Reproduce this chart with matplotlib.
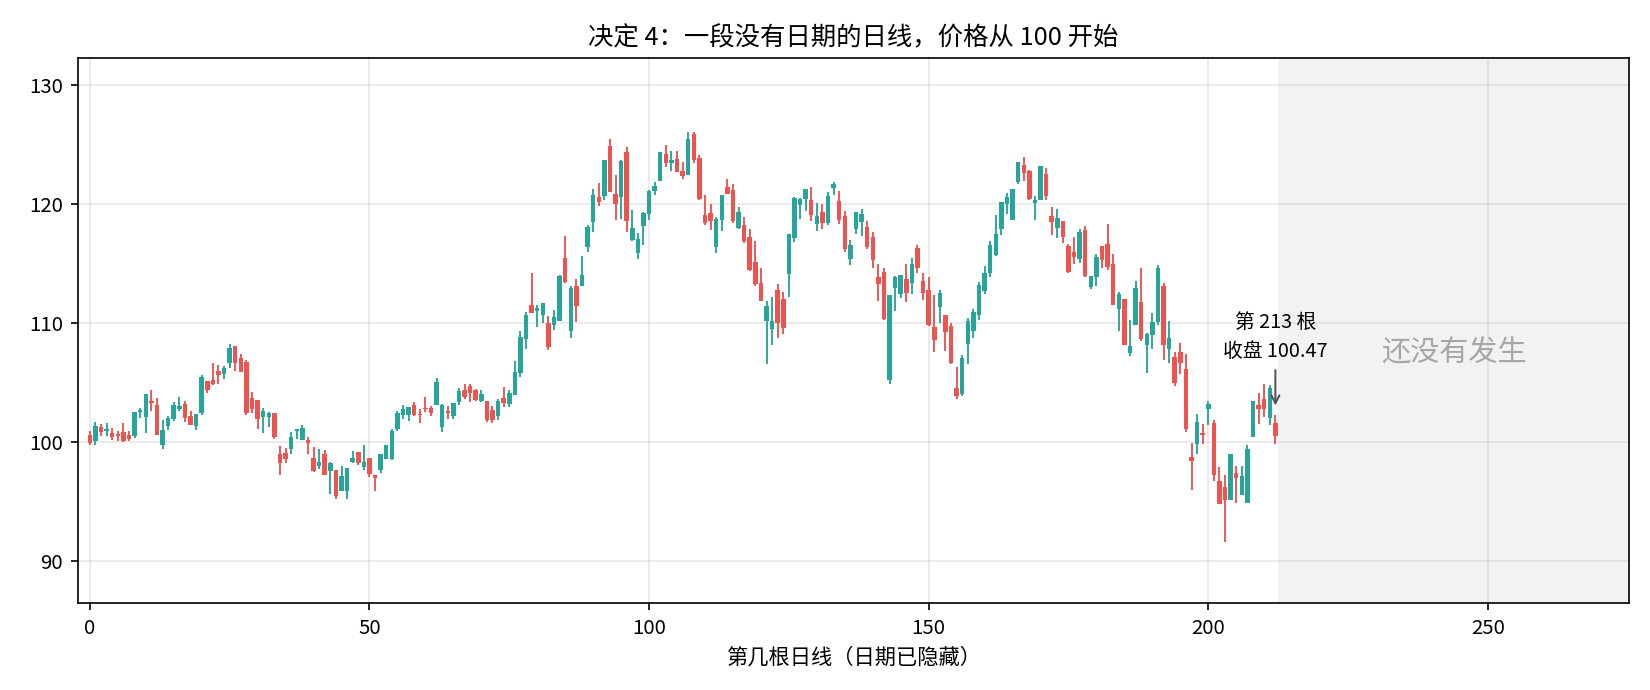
import matplotlib
matplotlib.use("Agg")
import matplotlib.pyplot as plt
import matplotlib.transforms as mtransforms
import numpy as np

plt.rcParams['font.family'] = ['Noto Sans CJK SC', 'DejaVu Sans']

# OHLC of the 213 daily candles
opens = [100.59, 100.11, 101.29, 100.95, 100.73, 100.67, 100.84, 100.62, 100.50, 102.52,
         102.13, 103.47, 103.11, 99.72, 101.34, 101.96, 102.80, 103.19, 102.18, 101.34,
         102.47, 105.16, 105.21, 106.00, 105.72, 106.61, 108.07, 107.06, 106.73, 103.70,
         103.53, 102.13, 102.07, 102.47, 98.99, 99.10, 99.38, 100.90, 100.17, 100.17,
         98.65, 97.93, 98.99, 97.59, 97.64, 95.85, 95.85, 98.32, 99.16, 97.87,
         98.65, 97.20, 97.64, 98.60, 98.54, 101.12, 102.24, 102.30, 103.08, 102.35,
         102.86, 102.86, 103.08, 101.23, 102.64, 102.19, 103.36, 104.37, 104.71, 104.37,
         103.48, 103.45, 102.70, 102.19, 103.70, 103.20, 103.98, 105.77, 108.63, 111.49,
         111.00, 110.71, 109.98, 109.81, 110.20, 115.47, 109.36, 113.12, 113.12, 116.43,
         118.53, 120.58, 120.69, 124.89, 120.86, 120.63, 124.42, 116.99, 115.92, 118.16,
         119.17, 121.14, 121.98, 124.22, 123.49, 123.80, 122.79, 122.48, 125.90, 123.88,
         119.06, 119.23, 116.43, 118.67, 121.44, 121.19, 118.00, 118.22, 117.27, 115.14,
         113.40, 110.20, 109.50, 112.78, 112.00, 114.13, 117.15, 119.90, 120.41, 120.36,
         118.34, 119.35, 118.45, 121.37, 120.24, 119.01, 115.42, 117.94, 118.51, 118.11,
         117.27, 113.91, 114.30, 105.22, 112.96, 112.45, 113.74, 113.40, 116.32, 113.57,
         112.79, 109.70, 111.38, 110.66, 109.76, 104.54, 104.04, 108.25, 109.37, 110.71,
         112.73, 114.19, 115.76, 117.94, 120.02, 118.67, 121.87, 123.30, 122.79, 120.07,
         120.35, 122.54, 119.01, 118.00, 118.59, 116.48, 115.98, 115.42, 117.83, 113.07,
         113.85, 116.48, 116.65, 114.97, 111.16, 112.00, 107.51, 109.81, 111.77, 108.13,
         109.03, 110.09, 113.12, 107.80, 107.12, 107.57, 106.17, 98.77, 99.83, 100.73,
         102.75, 101.57, 96.75, 96.19, 95.12, 97.37, 95.57, 94.90, 100.39, 103.14,
         103.59, 102.02, 101.63]
highs = [100.95, 101.68, 101.51, 101.57, 101.18, 100.95, 101.62, 100.95, 102.52, 102.86,
         104.03, 104.37, 103.70, 101.85, 102.18, 103.36, 103.75, 103.42, 102.63, 102.35,
         105.63, 105.16, 106.61, 106.47, 106.39, 108.24, 108.07, 107.40, 106.89, 104.20,
         103.53, 102.86, 102.52, 102.47, 99.66, 99.49, 100.79, 101.12, 101.46, 100.45,
         99.60, 99.44, 99.33, 98.32, 97.64, 97.93, 97.81, 99.27, 99.16, 99.72,
         98.65, 97.20, 98.99, 99.77, 101.07, 102.64, 103.08, 102.92, 103.36, 102.75,
         103.75, 103.03, 105.38, 103.20, 103.00, 103.25, 104.54, 104.88, 104.88, 104.48,
         104.37, 103.45, 103.00, 103.59, 104.65, 104.37, 106.84, 109.36, 110.93, 114.18,
         111.49, 111.66, 110.60, 111.10, 114.07, 117.32, 113.12, 113.68, 115.64, 118.22,
         121.28, 121.81, 123.72, 125.51, 122.45, 123.72, 124.84, 119.51, 117.55, 119.34,
         121.19, 121.86, 124.39, 125.00, 124.44, 124.44, 123.55, 126.07, 126.07, 124.16,
         120.74, 120.01, 118.89, 120.77, 122.12, 121.70, 119.79, 118.95, 117.94, 116.87,
         114.63, 111.88, 112.16, 113.29, 112.61, 117.49, 120.57, 120.52, 121.31, 121.42,
         120.13, 120.02, 121.03, 121.87, 121.08, 119.46, 117.00, 119.35, 119.63, 118.62,
         117.66, 114.97, 114.64, 112.39, 113.96, 114.02, 114.97, 115.48, 116.54, 114.19,
         113.85, 112.39, 112.79, 110.71, 109.98, 106.34, 107.29, 110.43, 111.16, 113.46,
         114.80, 116.94, 119.12, 120.19, 120.97, 121.25, 123.55, 124.00, 122.88, 120.69,
         123.21, 123.05, 119.79, 119.62, 118.59, 116.65, 117.27, 117.94, 118.17, 113.96,
         115.81, 116.48, 118.34, 115.81, 112.62, 112.00, 110.26, 113.51, 114.64, 109.19,
         110.82, 114.86, 113.35, 110.21, 107.52, 108.30, 107.40, 99.89, 102.36, 101.51,
         103.48, 101.85, 97.87, 97.20, 99.00, 97.98, 97.98, 99.72, 103.42, 104.09,
         104.88, 104.82, 102.30]
lows = [99.75, 99.75, 100.50, 100.50, 100.17, 100.11, 100.03, 100.11, 100.33, 102.02,
        100.78, 102.63, 100.61, 99.44, 101.01, 101.79, 102.63, 101.68, 101.46, 101.01,
        102.30, 104.15, 104.76, 104.88, 105.32, 106.22, 106.00, 105.89, 102.30, 102.47,
        101.12, 100.73, 101.29, 100.28, 97.25, 98.26, 98.94, 100.22, 100.17, 98.94,
        97.48, 97.76, 97.25, 95.63, 95.18, 95.85, 95.23, 98.21, 98.09, 97.64,
        97.08, 95.85, 97.37, 98.54, 98.49, 100.90, 101.96, 101.79, 102.19, 101.63,
        102.52, 102.19, 103.08, 100.79, 101.90, 101.90, 103.08, 103.64, 103.36, 103.42,
        103.36, 101.70, 101.60, 101.85, 102.97, 102.92, 103.98, 105.49, 107.85, 110.88,
        109.64, 110.03, 107.74, 109.42, 110.20, 113.34, 108.75, 110.09, 113.12, 115.98,
        117.66, 119.85, 120.35, 121.02, 118.67, 118.72, 117.66, 116.93, 115.42, 116.59,
        118.67, 120.80, 121.98, 123.10, 122.82, 122.73, 122.12, 122.48, 123.49, 120.35,
        118.22, 117.83, 115.92, 117.77, 120.85, 118.44, 117.94, 116.76, 114.41, 113.12,
        111.88, 106.56, 108.18, 108.74, 109.08, 112.22, 116.82, 118.78, 119.45, 118.62,
        117.78, 117.94, 118.28, 120.75, 118.34, 115.98, 114.92, 117.50, 117.33, 116.21,
        114.64, 111.83, 110.26, 104.88, 111.05, 112.11, 111.78, 112.45, 114.24, 111.94,
        109.76, 107.52, 110.04, 107.68, 106.56, 103.59, 103.82, 106.56, 108.75, 110.26,
        112.45, 113.85, 115.64, 117.44, 119.18, 118.67, 121.70, 121.98, 120.35, 118.67,
        120.35, 120.35, 117.44, 117.16, 116.77, 114.24, 114.97, 115.08, 113.91, 112.90,
        113.12, 114.63, 114.47, 111.49, 109.36, 108.13, 107.23, 109.81, 108.52, 105.78,
        107.85, 109.87, 106.90, 106.62, 104.71, 105.72, 100.79, 95.91, 98.94, 99.78,
        101.40, 96.69, 94.79, 91.59, 95.12, 94.84, 95.57, 94.84, 100.39, 101.51,
        102.13, 101.46, 99.83]
closes = [99.94, 101.34, 100.84, 101.12, 100.45, 100.50, 100.11, 100.28, 102.52, 102.69,
          104.03, 103.31, 100.61, 101.01, 102.02, 103.08, 103.00, 102.02, 101.46, 102.35,
          105.49, 104.37, 104.88, 105.66, 106.22, 107.90, 106.67, 105.89, 102.47, 102.80,
          101.90, 102.58, 102.47, 100.39, 98.26, 98.60, 100.45, 101.12, 101.18, 99.94,
          97.59, 98.32, 97.25, 98.26, 95.46, 97.14, 97.81, 98.65, 98.21, 98.32,
          97.31, 96.92, 98.99, 99.77, 100.95, 102.47, 102.75, 102.92, 102.24, 102.24,
          102.75, 102.41, 105.05, 103.08, 102.47, 103.25, 104.31, 103.75, 104.15, 103.53,
          104.03, 101.85, 101.85, 103.42, 103.31, 104.09, 105.89, 108.80, 110.65, 110.88,
          111.27, 111.66, 108.02, 110.48, 113.96, 113.45, 112.95, 111.44, 114.02, 118.11,
          120.77, 120.18, 123.72, 121.02, 120.01, 123.66, 118.61, 117.99, 117.04, 119.23,
          121.11, 121.53, 124.39, 123.49, 123.71, 122.73, 122.34, 125.45, 123.71, 120.46,
          118.44, 118.61, 118.78, 120.77, 120.85, 118.61, 119.34, 116.93, 114.46, 113.29,
          111.88, 111.44, 110.20, 109.98, 109.59, 117.49, 120.52, 120.46, 121.28, 119.12,
          119.01, 118.39, 120.69, 121.70, 118.67, 116.26, 116.60, 119.35, 119.18, 116.37,
          115.31, 113.29, 110.32, 112.39, 113.85, 114.02, 112.51, 114.97, 114.64, 112.56,
          109.81, 108.58, 112.51, 109.25, 106.62, 103.87, 107.07, 110.15, 110.94, 113.18,
          114.24, 116.60, 117.49, 120.19, 120.58, 121.25, 123.55, 122.60, 120.44, 120.35,
          123.21, 120.72, 118.50, 118.84, 117.27, 114.30, 115.59, 117.66, 113.96, 113.96,
          115.59, 115.31, 114.75, 111.55, 112.45, 108.13, 108.07, 112.95, 108.69, 109.08,
          110.09, 114.64, 108.13, 108.75, 104.99, 106.67, 101.12, 98.43, 101.68, 100.56,
          103.20, 97.25, 94.79, 95.07, 99.00, 96.92, 97.14, 99.38, 103.42, 102.80,
          102.80, 104.54, 100.47]

up_color = "#26a69a"
down_color = "#ef5350"

o = np.array(opens)
h = np.array(highs)
l = np.array(lows)
c = np.array(closes)
idx = np.arange(len(c))
colors = np.where(c >= o, up_color, down_color)

fig = plt.figure(figsize=(11, 4.6), dpi=150)
fig.subplots_adjust(left=0.047, right=0.9875, top=0.916, bottom=0.126)
ax = fig.add_subplot(111)

# wicks then bodies
ax.vlines(idx, l, h, colors=colors, linewidth=0.9, zorder=2)
body = np.maximum(np.abs(c - o), 0.06)
ax.bar(idx, body, bottom=np.minimum(o, c), width=0.8, color=colors,
       linewidth=0, zorder=3)

xmax = 275.3
ax.set_xlim(-2.2, xmax)
ax.set_ylim(86.44, 132.3)

# future zone
n = len(c)
ax.axvspan(n - 0.5, xmax, color="#f2f2f2", zorder=0, linewidth=0)
trans = mtransforms.blended_transform_factory(ax.transData, ax.transAxes)
ax.text((n - 0.5 + xmax) / 2, 0.457, "还没有发生", transform=trans,
        ha="center", va="center", fontsize=14, color="#a6a6a6")

ax.annotate(f"第 {n} 根\n收盘 {c[-1]:.2f}", xy=(n - 1, h[-1] + 0.4),
            xytext=(0, 23), textcoords="offset points", ha="center",
            va="bottom", fontsize=9.5, linespacing=1.5,
            arrowprops=dict(arrowstyle="->", color="#555555", lw=1.0))

ax.set_xticks([0, 50, 100, 150, 200, 250])
ax.set_yticks([90, 100, 110, 120, 130])
ax.tick_params(labelsize=9.8)
ax.grid(True, color="#b0b0b0", alpha=0.3, linewidth=0.8)
ax.set_axisbelow(True)

ax.set_title("决定 4：一段没有日期的日线，价格从 100 开始", fontsize=12.2)
ax.set_xlabel("第几根日线（日期已隐藏）", fontsize=10.2)

fig.savefig("out.png", dpi=150)
